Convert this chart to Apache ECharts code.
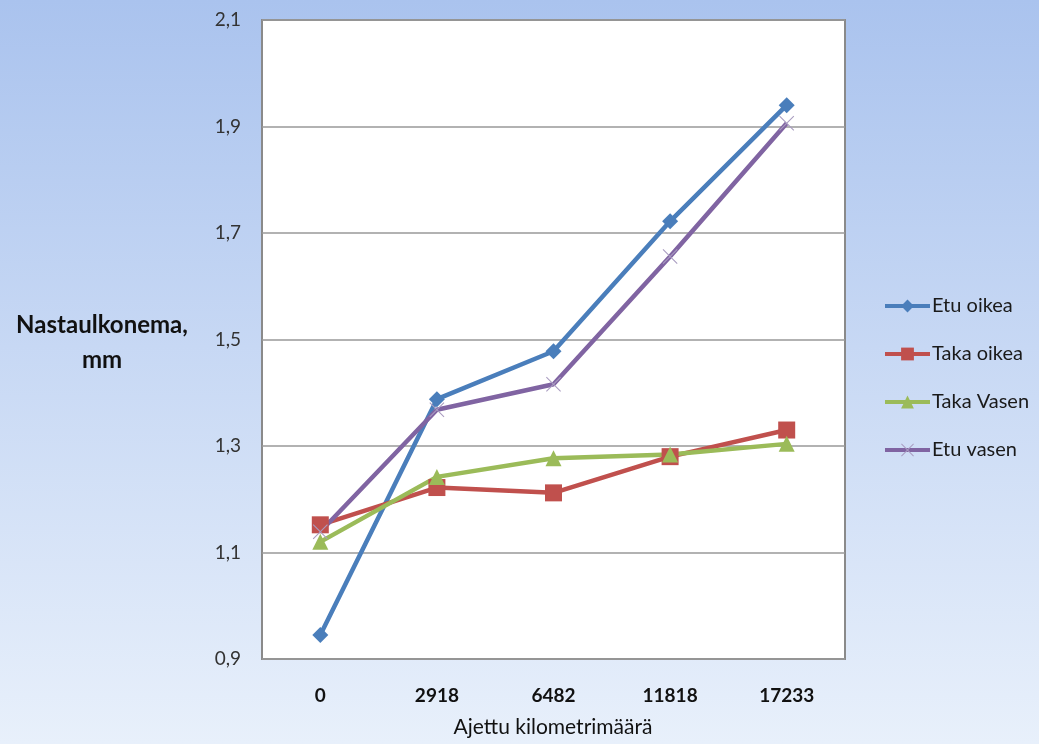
<!DOCTYPE html>
<html>
<head>
<meta charset="utf-8">
<style>
  html, body { margin: 0; padding: 0; }
  #chart { width: 1039px; height: 744px; }
</style>
<script src="https://cdn.jsdelivr.net/npm/echarts@6/dist/echarts.min.js"></script>
</head>
<body>
<div id="chart"></div>
<script>
// Kilometres driven (category axis)
const kilometrit = ['0', '2918', '6482', '11818', '17233'];

// Stud protrusion per tyre position, mm
const etuOikea  = [0.945, 1.388, 1.478, 1.722, 1.940];
const takaOikea = [1.152, 1.222, 1.212, 1.280, 1.330];
const takaVasen = [1.120, 1.242, 1.277, 1.284, 1.304];
const etuVasen  = [1.139, 1.368, 1.416, 1.656, 1.906];

const sarjaNimet = ['Etu oikea', 'Taka oikea', 'Taka Vasen', 'Etu vasen'];

const FONT = 'Lato, "Open Sans", sans-serif';

// thin "x" marker
const ristiPath = 'path://M0,1 L1,0 L10,9 L19,0 L20,1 L11,10 L20,19 L19,20 L10,11 L1,20 L0,19 L9,10 Z';

const chart = echarts.init(document.getElementById('chart'), null, { renderer: 'canvas' });

function sarja(name, data, color, symbol, size, markerColor) {
  return {
    name: name,
    type: 'line',
    data: data,
    symbol: symbol,
    symbolSize: size,
    showAllSymbol: true,
    lineStyle: { color: color, width: 4.5 },
    itemStyle: { color: markerColor || color },
    emphasis: { disabled: true },
    z: 3
  };
}

chart.setOption({
  animation: false,
  backgroundColor: {
    type: 'linear', x: 0, y: 0, x2: 0, y2: 1,
    colorStops: [
      { offset: 0, color: '#aac3ee' },
      { offset: 1, color: '#e8f0fb' }
    ]
  },
  textStyle: { fontFamily: FONT },
  grid: {
    left: 262, right: 194, top: 20, bottom: 85,
    show: true,
    backgroundColor: '#ffffff',
    borderColor: '#8a8a8a',
    borderWidth: 2,
    containLabel: false
  },
  legend: {
    orient: 'vertical',
    left: 878,
    top: 291,
    itemWidth: 45,
    itemHeight: 16,
    itemGap: 28,
    data: sarjaNimet,
    lineStyle: { width: 4 },
    textStyle: { fontFamily: FONT, fontSize: 20, color: '#1a1a1a', padding: [0, 0, 0, -3] }
  },
  xAxis: {
    type: 'category',
    data: kilometrit,
    boundaryGap: true,
    axisLine: { show: false },
    axisTick: { show: false },
    axisLabel: {
      margin: 27,
      fontFamily: FONT,
      fontSize: 19,
      fontWeight: 'bold',
      color: '#111'
    },
    splitLine: { show: false }
  },
  yAxis: {
    type: 'value',
    min: 0.9,
    max: 2.1,
    interval: 0.2,
    axisLine: { show: false },
    axisTick: { show: false },
    axisLabel: {
      margin: 21,
      fontFamily: FONT,
      fontSize: 19,
      color: '#333',
      formatter: v => v.toFixed(1).replace('.', ',')
    },
    splitLine: { show: true, lineStyle: { color: '#999999', width: 1.5 } }
  },
  graphic: [
    {
      type: 'text',
      style: {
        x: 102, y: 337,
        text: 'Nastaulkonema,',
        font: 'bold 24px ' + FONT,
        fill: '#111',
        textAlign: 'center',
        textVerticalAlign: 'bottom'
      }
    },
    {
      type: 'text',
      style: {
        x: 102, y: 372,
        text: 'mm',
        font: 'bold 24px ' + FONT,
        fill: '#111',
        textAlign: 'center',
        textVerticalAlign: 'bottom'
      }
    },
    {
      type: 'text',
      style: {
        x: 553, y: 727,
        text: 'Ajettu kilometrimäärä',
        font: '21px ' + FONT,
        fill: '#111',
        textAlign: 'center',
        textVerticalAlign: 'middle'
      }
    }
  ],
  series: [
    sarja('Etu oikea', etuOikea, '#4a7ebb', 'diamond', 16),
    sarja('Taka oikea', takaOikea, '#c0504d', 'rect', 17),
    sarja('Taka Vasen', takaVasen, '#9bbb59', 'triangle', 16),
    sarja('Etu vasen', etuVasen, '#8064a2', ristiPath, 15, '#a99cc0')
  ]
});
</script>
</body>
</html>
